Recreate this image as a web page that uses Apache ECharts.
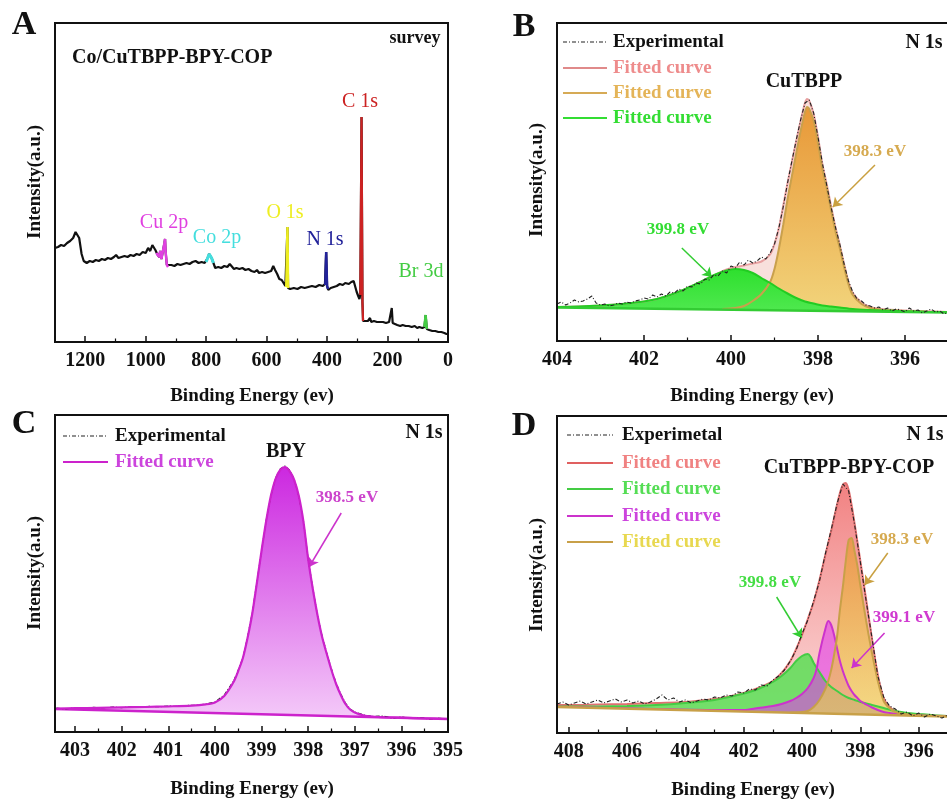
<!DOCTYPE html>
<html>
<head>
<meta charset="utf-8">
<script src="https://cdn.jsdelivr.net/npm/echarts@6/dist/echarts.min.js"></script>
<style>
  html, body { margin: 0; padding: 0; background: #fff; }
  #root { width: 947px; height: 805px; }
</style>
</head>
<body>
<div id="root"></div>
<script>
// ---- A: survey spectrum [binding energy, intensity] ----
const surveyA = [[1300, 94], [1290, 95], [1280, 97], [1270, 96], [1260, 99], [1250, 101], [1240, 104], [1232, 110], [1226, 111], [1220, 104], [1212, 88], [1205, 81], [1195, 79], [1185, 81], [1175, 80], [1165, 82], [1155, 81], [1145, 83], [1135, 82], [1125, 84], [1115, 83], [1105, 85], [1098, 87], [1090, 84], [1080, 85], [1070, 86], [1060, 85], [1050, 87], [1040, 86], [1030, 88], [1020, 87], [1010, 90], [1000, 89], [992, 94], [985, 91], [978, 97], [972, 99], [968, 92], [962, 88], [955, 85], [952, 91], [948, 83], [943, 85], [938, 99], [936, 103], [934, 90], [930, 77], [925, 75], [915, 77], [905, 76], [895, 78], [885, 77], [875, 78], [865, 79], [855, 78], [845, 80], [835, 81], [825, 79], [815, 80], [805, 79], [800, 80], [795, 84], [790, 88], [786, 89], [782, 84], [776, 79], [770, 74], [760, 75], [750, 74], [740, 76], [730, 75], [722, 78], [716, 76], [708, 73], [700, 74], [690, 73], [680, 74], [670, 72], [660, 73], [650, 71], [640, 70], [632, 72], [625, 69], [615, 70], [605, 69], [595, 70], [585, 71], [578, 76], [572, 72], [565, 68], [558, 63], [550, 62], [544, 60], [538, 56], [533, 55], [531, 115], [529, 54], [522, 53], [510, 54], [498, 53], [486, 55], [474, 54], [462, 55], [450, 56], [438, 55], [426, 57], [414, 56], [407, 58], [403, 90], [400, 56], [396, 52], [388, 54], [378, 55], [368, 56], [358, 58], [348, 57], [340, 59], [334, 61], [328, 58], [320, 60], [312, 61], [306, 59], [302, 50], [297, 46], [293, 43], [290, 47], [286, 225], [283, 40], [281, 21], [275, 20], [265, 21], [258, 24], [254, 20], [245, 21], [235, 20], [225, 20], [215, 20], [205, 19], [195, 20], [189, 22], [186, 34], [183, 19], [178, 17], [168, 17], [158, 16], [150, 17], [140, 16], [130, 16], [120, 15], [110, 16], [102, 14], [95, 15], [85, 14], [78, 15], [74, 27], [70, 13], [62, 12], [52, 11], [42, 11], [32, 10], [22, 10], [12, 9], [5, 8], [0, 8]]
const cu2p = [[965, 89], [962, 88], [955, 85], [952, 91], [948, 83], [943, 85], [938, 99], [936, 103], [934, 90], [930, 77], [926, 75]]
const co2p = [[800, 80], [795, 84], [790, 88], [786, 89], [782, 84], [776, 79]]
const o1s = [[535, 55], [533, 55], [531, 115], [529, 54], [527, 54]]
const n1s = [[406, 57], [403, 90], [400, 56], [397, 53]]
const c1s = [[290, 47], [286, 225], [283, 40], [281, 21]]
const br3d = [[78, 15], [74, 27], [70, 13]]

// ---- B: CuTBPP N 1s ----
const expB = [[404.0, 37], [403.9, 39], [403.8, 36], [403.7, 38], [403.6, 41], [403.5, 39], [403.4, 40], [403.3, 42], [403.2, 45], [403.1, 38], [403.0, 36], [402.9, 37], [402.8, 35], [402.7, 36], [402.6, 38], [402.5, 37], [402.4, 39], [402.3, 38], [402.2, 40], [402.1, 41], [402.0, 43], [401.9, 42], [401.8, 46], [401.7, 44], [401.6, 47], [401.5, 45], [401.4, 49], [401.3, 48], [401.2, 52], [401.1, 50], [401.0, 55], [400.9, 54], [400.8, 58], [400.7, 57], [400.6, 62], [400.5, 61], [400.4, 66], [400.3, 65], [400.2, 70], [400.1, 68], [400.0, 75], [399.9, 73], [399.8, 79], [399.7, 76], [399.6, 81], [399.5, 78], [399.4, 80], [399.3, 84], [399.2, 82], [399.1, 88], [399.0, 97], [398.9, 113], [398.8, 134], [398.7, 158], [398.6, 180], [398.5, 201], [398.4, 221], [398.3, 238], [398.2, 241], [398.1, 228], [398.0, 204], [397.9, 178], [397.8, 156], [397.7, 134], [397.6, 114], [397.5, 97], [397.4, 77], [397.3, 60], [397.2, 49], [397.1, 42], [397.0, 40], [396.9, 36], [396.8, 35], [396.7, 33], [396.6, 34], [396.5, 31], [396.4, 33], [396.3, 30], [396.2, 32], [396.1, 31], [396.0, 29], [395.9, 33], [395.8, 30], [395.7, 31], [395.6, 28], [395.5, 30], [395.4, 32], [395.3, 29], [395.2, 30], [395.1, 27], [395.0, 29]]
const envB = [[404, 34], [403.5, 34.5], [403, 35.5], [402.5, 37], [402, 39.5], [401.7, 42], [401.4, 46], [401.1, 51], [400.9, 55], [400.7, 59], [400.5, 63.5], [400.3, 67.6], [400.1, 71.5], [399.9, 74], [399.7, 75.5], [399.5, 77.5], [399.3, 79.5], [399.1, 86.5], [399.0, 97], [398.9, 113], [398.8, 135], [398.7, 158], [398.6, 179], [398.5, 200], [398.4, 220], [398.3, 238], [398.25, 242], [398.2, 240], [398.1, 227], [398.0, 204], [397.9, 177], [397.8, 157], [397.7, 135], [397.6, 114], [397.5, 96], [397.4, 77], [397.3, 59], [397.2, 48], [397.0, 38.5], [396.8, 34], [396.5, 31.7], [396, 30.4], [395.5, 29.7], [395, 29]]
const orangeB = [[400.2, 32], [399.9, 33], [399.7, 35], [399.5, 40], [399.3, 47], [399.1, 59], [399.0, 72], [398.9, 92], [398.8, 116], [398.7, 142], [398.6, 165], [398.5, 188], [398.4, 210], [398.3, 229], [398.25, 234], [398.2, 232], [398.1, 220], [398.0, 198], [397.9, 172], [397.8, 153], [397.7, 131], [397.6, 110], [397.5, 93], [397.4, 74], [397.3, 57], [397.2, 46], [397.0, 37], [396.8, 33], [396.5, 31], [396, 30], [395.5, 29.3], [395, 28.8]]
const greenB = [[404, 34], [403.5, 34.5], [403, 35.5], [402.5, 37], [402, 39.5], [401.7, 42], [401.4, 46], [401.1, 51], [400.9, 55], [400.7, 59], [400.5, 63.5], [400.3, 67.5], [400.1, 70.5], [399.9, 72], [399.7, 71], [399.5, 68], [399.3, 63], [399.1, 58], [398.9, 52.5], [398.7, 47.5], [398.5, 43], [398.3, 39.5], [398.1, 37.5], [397.9, 35.5], [397.7, 34.5], [397.5, 33.5], [397.2, 32], [396.8, 31], [396.5, 30.5], [396, 29.8], [395.5, 29.2], [395, 28.8]]
const baseB = [[404, 33.5], [395, 28.5]]

// ---- C: BPY N 1s ----
const expC = [[403.4, 24], [403.2, 23], [403.0, 24.5], [402.8, 23.8], [402.6, 24.6], [402.4, 24], [402.2, 25], [402.0, 24.4], [401.8, 25.3], [401.6, 24.8], [401.4, 25.6], [401.2, 25.2], [401.0, 26], [400.8, 25.6], [400.6, 26.6], [400.4, 26.8], [400.2, 28], [400.0, 30], [399.8, 37], [399.6, 51], [399.5, 62], [399.4, 74], [399.3, 95], [399.2, 119], [399.1, 150], [399.0, 181], [398.9, 212], [398.8, 236], [398.7, 254], [398.6, 263], [398.5, 266], [398.4, 262], [398.3, 253], [398.2, 236], [398.1, 211], [398.0, 173], [397.9, 144], [397.8, 117], [397.7, 96], [397.6, 79], [397.5, 63], [397.4, 49], [397.3, 38], [397.2, 29], [397.1, 23], [397.0, 20], [396.8, 17], [396.6, 15.5], [396.4, 16], [396.2, 14], [396.0, 15], [395.8, 13.5], [395.6, 14.5], [395.4, 13], [395.2, 13.8], [395.0, 12.5]]
const fitC = [[403.4, 23.5], [403, 23.8], [402.5, 24.2], [402, 24.6], [401.5, 25], [401, 25.6], [400.5, 26.4], [400.2, 27.6], [400, 29.5], [399.8, 36], [399.6, 50], [399.5, 61], [399.4, 74], [399.3, 94], [399.2, 118], [399.1, 149], [399.0, 181], [398.9, 211], [398.8, 236], [398.7, 253], [398.6, 262], [398.5, 265], [398.4, 261], [398.3, 252], [398.2, 236], [398.1, 210], [398.0, 173], [397.9, 143], [397.8, 117], [397.7, 95], [397.6, 78], [397.5, 62], [397.4, 48], [397.3, 37], [397.2, 28], [397.1, 22.5], [397.0, 19.5], [396.8, 16.5], [396.5, 15], [396, 14.3], [395.5, 13.6], [395, 13]]
const baseC = [[403.43, 23], [395, 13]]

// ---- D: CuTBPP-BPY-COP N 1s ----
const expD = [[408.4, 29], [408.2, 31], [408.0, 28], [407.8, 30], [407.6, 32], [407.4, 29], [407.2, 31], [407.0, 33], [406.8, 30], [406.6, 32], [406.4, 34], [406.2, 31], [406.0, 33], [405.8, 30], [405.6, 32], [405.4, 29], [405.2, 31], [405.0, 34], [404.8, 38], [404.6, 33], [404.4, 35], [404.2, 31], [404.0, 33], [403.8, 30], [403.6, 32], [403.4, 34], [403.2, 33], [403.0, 36], [402.8, 35], [402.6, 38], [402.4, 37], [402.2, 41], [402.0, 40], [401.8, 44], [401.6, 43], [401.4, 48], [401.2, 47], [401.0, 53], [400.8, 57], [400.6, 63], [400.4, 72], [400.2, 83], [400.0, 99], [399.8, 113], [399.6, 132], [399.4, 152], [399.2, 179], [399.0, 203], [398.8, 229], [398.6, 249], [398.4, 242], [398.2, 209], [398.0, 171], [397.8, 132], [397.6, 95], [397.4, 57], [397.2, 36], [397.0, 27], [396.8, 24], [396.6, 19], [396.4, 21], [396.2, 17], [396.0, 20], [395.8, 16], [395.6, 19], [395.4, 17], [395.2, 15], [395.0, 18]]
const envD = [[408.4, 28], [408, 28], [407, 28.5], [406, 29], [405, 30], [404, 31], [403, 34], [402.5, 36.5], [402, 40], [401.5, 45], [401, 52], [400.7, 60], [400.4, 72], [400.2, 84], [400.0, 98], [399.8, 114], [399.6, 131], [399.4, 153], [399.2, 178], [399.1, 190], [399.0, 202], [398.9, 215], [398.8, 228], [398.7, 240], [398.6, 248], [398.5, 250], [398.4, 243], [398.3, 228], [398.2, 210], [398.1, 191], [398.0, 172], [397.8, 133], [397.6, 94], [397.4, 58], [397.2, 35], [397.0, 26], [396.8, 22], [396.5, 20], [396, 18.5], [395.5, 17.5], [395, 17]]
const greenD = [[408.4, 26.5], [408, 26.5], [407, 26.6], [406, 27], [405, 28], [404, 30], [403, 33], [402.5, 36], [402, 39.5], [401.5, 44], [401, 51], [400.7, 57], [400.4, 65], [400.2, 72], [400.0, 77], [399.8, 79], [399.7, 76], [399.6, 70], [399.4, 61], [399.2, 52], [399.0, 46], [398.8, 42], [398.6, 38], [398.4, 35], [398.2, 33], [398.0, 31], [397.6, 28], [397.2, 25], [396.8, 22], [396.4, 20], [396, 19], [395.5, 17.8], [395, 17]]
const magentaD = [[408.4, 26.2], [407, 25.3], [405, 24], [403, 23], [402, 23], [401.5, 25], [401, 27], [400.7, 29], [400.4, 32], [400.2, 35], [400.0, 39], [399.8, 45], [399.6, 55], [399.5, 64], [399.4, 80], [399.2, 104], [399.1, 112], [399.0, 108], [398.9, 98], [398.8, 85], [398.7, 72], [398.6, 62], [398.5, 54], [398.4, 47], [398.3, 42], [398.2, 38], [398.1, 35], [398.0, 32], [397.8, 28.5], [397.6, 25.5], [397.4, 23], [397.2, 21], [397.0, 20], [396.5, 18], [396, 17.5], [395.5, 17], [395, 16.5]]
const orangeD = [[400.4, 20.5], [400, 21], [399.8, 22], [399.6, 26], [399.4, 33], [399.2, 44], [399.1, 52], [399.0, 63], [398.9, 78], [398.8, 96], [398.7, 123], [398.6, 146], [398.5, 172], [398.4, 193], [398.3, 195], [398.2, 182], [398.1, 167], [398.0, 148], [397.8, 112], [397.6, 80], [397.4, 52], [397.2, 32], [397.0, 25], [396.8, 21], [396.5, 19], [396, 17.5], [395.5, 17], [395, 16.5]]
const baseD = [[408.4, 26], [395, 16.5]]

const FONT = '"Liberation Serif", "Times New Roman", serif'
const main = document.getElementById('root')
const chart = echarts.init(main)

const grad = (top, bottom) => new echarts.graphic.LinearGradient(0, 0, 0, 1, [
  { offset: 0, color: top }, { offset: 1, color: bottom }
])

// 坐标轴
function energyAxis(idx, min, max, interval, showMax) {
  return {
    type: 'value', gridIndex: idx, min, max, interval, inverse: true, z: 10,
    axisLine: { show: true, onZero: false, lineStyle: { color: '#111', width: 2 } },
    axisTick: { show: true, inside: true, length: 6, lineStyle: { color: '#111', width: 1.5 } },
    minorTick: { show: true, splitNumber: 2, length: 3.5, lineStyle: { color: '#111', width: 1.2 } },
    splitLine: { show: false },
    minorSplitLine: { show: false },
    axisLabel: {
      fontFamily: FONT, fontWeight: 'bold', fontSize: 20, color: '#111', margin: 9,
      showMaxLabel: showMax, formatter: v => String(v)
    }
  }
}
const intensityAxis = (idx, max) => ({ type: 'value', gridIndex: idx, min: 0, max, show: false })

function line(idx, data, color, width, z, extra = {}) {
  return Object.assign({
    type: 'line', xAxisIndex: idx, yAxisIndex: idx, data, showSymbol: false, symbol: 'none',
    silent: true, z, lineStyle: { color, width }
  }, extra)
}
const fit = (idx, data, color, fill, z = 2) => line(idx, data, color, 2, z, { smooth: 0.3, areaStyle: { color: fill, opacity: 1 } })
const base = (idx, data, color) => line(idx, data, color, 2.5, 3, { areaStyle: { color: '#fff', opacity: 1 } })
const exp = (idx, data, arrows) => line(idx, data, '#222', 1, 5, {
  lineStyle: { color: '#222', width: 1.1, type: [4, 2, 1, 2] },
  markLine: {
    silent: true, symbol: ['none', 'arrow'], symbolSize: 9, label: { show: false },
    emphasis: { disabled: true },
    data: arrows.map(a => [
      { coord: a.from, lineStyle: { color: a.color, width: 1.5, type: 'solid' } },
      { coord: a.to, lineStyle: { color: a.color, width: 1.5, type: 'solid' } }
    ])
  }
})

// 文字
function txt(x, y, text, size, color, o = {}) {
  const align = o.align || 'center'
  return {
    type: 'text', x, y, rotation: o.rot || 0, z: 30, silent: true,
    style: {
      text, fill: color, font: `${o.weight || 'bold'} ${size}px ${FONT}`,
      align, verticalAlign: 'middle', textAlign: align, textVerticalAlign: 'middle'
    }
  }
}
function key(x1, x2, y, color, dash) {
  return {
    type: 'line', z: 30, silent: true, shape: { x1, y1: y, x2, y2: y },
    style: { stroke: color, lineWidth: dash ? 1.2 : 2, lineDash: dash || null }
  }
}
const DASH = [4, 2, 1, 2]

const graphic = [
  // panel A
  txt(24, 25, 'A', 34, '#111'),
  txt(415, 38, 'survey', 18, '#111'),
  txt(72, 58, 'Co/CuTBPP-BPY-COP', 20, '#111', { align: 'left' }),
  txt(164, 223, 'Cu 2p', 20, '#e040e0', { weight: 'normal' }),
  txt(217, 238, 'Co 2p', 20, '#44dede', { weight: 'normal' }),
  txt(285, 213, 'O 1s', 20, '#eeee22', { weight: 'normal' }),
  txt(325, 240, 'N 1s', 20, '#22229a', { weight: 'normal' }),
  txt(360, 102, 'C 1s', 20, '#cc2222', { weight: 'normal' }),
  txt(421, 272, 'Br 3d', 20, '#44cc44', { weight: 'normal' }),
  txt(35, 182, 'Intensity(a.u.)', 19, '#111', { rot: Math.PI / 2 }),
  txt(252, 396, 'Binding Energy (ev)', 19, '#111'),
  // panel B
  txt(524, 27, 'B', 34, '#111'),
  key(563, 607, 42, '#222', DASH), txt(613, 42, 'Experimental', 19, '#111', { align: 'left' }),
  key(563, 607, 68, '#e08a8a'), txt(613, 68, 'Fitted curve', 19, '#ee8c8c', { align: 'left' }),
  key(563, 607, 93, '#d6aa55'), txt(613, 93, 'Fitted curve', 19, '#e4b458', { align: 'left' }),
  key(563, 607, 118, '#33dd33'), txt(613, 118, 'Fitted curve', 19, '#33dd33', { align: 'left' }),
  txt(924, 43, 'N 1s', 20, '#111'),
  txt(804, 82, 'CuTBPP', 20, '#111'),
  txt(875, 152, '398.3 eV', 17, '#d6aa50'),
  txt(678, 230, '399.8 eV', 17, '#33dd33'),
  txt(537, 180, 'Intensity(a.u.)', 19, '#111', { rot: Math.PI / 2 }),
  txt(752, 396, 'Binding Energy (ev)', 19, '#111'),
  // panel C
  txt(24, 424, 'C', 34, '#111'),
  key(63, 108, 436, '#222', DASH), txt(115, 436, 'Experimental', 19, '#111', { align: 'left' }),
  key(63, 108, 462, '#cc22cc'), txt(115, 462, 'Fitted curve', 19, '#cc44dd', { align: 'left' }),
  txt(424, 433, 'N 1s', 20, '#111'),
  txt(286, 452, 'BPY', 20, '#111'),
  txt(347, 498, '398.5 eV', 17, '#cc44cc'),
  txt(35, 573, 'Intensity(a.u.)', 19, '#111', { rot: Math.PI / 2 }),
  txt(252, 789, 'Binding Energy (ev)', 19, '#111'),
  // panel D
  txt(524, 426, 'D', 34, '#111'),
  key(567, 613, 435, '#222', DASH), txt(622, 435, 'Experimetal', 19, '#111', { align: 'left' }),
  key(567, 613, 463, '#e06060'), txt(622, 463, 'Fitted curve', 19, '#f08282', { align: 'left' }),
  key(567, 613, 489, '#44cc44'), txt(622, 489, 'Fitted curve', 19, '#55dd55', { align: 'left' }),
  key(567, 613, 516, '#cc33cc'), txt(622, 516, 'Fitted curve', 19, '#cc44dd', { align: 'left' }),
  key(567, 613, 542, '#c8a048'), txt(622, 542, 'Fitted curve', 19, '#e8d850', { align: 'left' }),
  txt(925, 435, 'N 1s', 20, '#111'),
  txt(849, 468, 'CuTBPP-BPY-COP', 20, '#111'),
  txt(902, 540, '398.3 eV', 17, '#d6aa50'),
  txt(770, 583, '399.8 eV', 17, '#44dd44'),
  txt(904, 618, '399.1 eV', 17, '#d03ad0'),
  txt(537, 575, 'Intensity(a.u.)', 19, '#111', { rot: Math.PI / 2 }),
  txt(753, 790, 'Binding Energy (ev)', 19, '#111')
]

const gridBox = {
  show: true, borderColor: '#111', borderWidth: 2, z: 10, backgroundColor: 'transparent',
  containLabel: false, outerBoundsMode: 'none'
}

const option = {
  animation: false,
  backgroundColor: '#fff',
  grid: [
    { ...gridBox, left: 55, top: 23, width: 393, height: 319 },
    { ...gridBox, left: 557, top: 23, width: 435, height: 318 },
    { ...gridBox, left: 55, top: 415, width: 393, height: 317 },
    { ...gridBox, left: 557, top: 416, width: 420, height: 317 }
  ],
  xAxis: [
    energyAxis(0, 0, 1300, 200, false),
    energyAxis(1, 394, 404, 2, true),
    energyAxis(2, 395, 403.43, 1, false),
    energyAxis(3, 394, 408.4, 2, false)
  ],
  yAxis: [intensityAxis(0, 319), intensityAxis(1, 318), intensityAxis(2, 317), intensityAxis(3, 317)],
  graphic,
  series: [
    // A
    line(0, surveyA, '#111', 2.2, 2),
    line(0, cu2p, '#e040e0', 2.5, 3),
    line(0, co2p, '#44dede', 3, 3),
    line(0, o1s, '#eeee22', 2.5, 3),
    line(0, n1s, '#22229a', 2.5, 3),
    line(0, c1s, '#cc2222', 2.2, 3),
    line(0, br3d, '#44cc44', 2.5, 3),
    // B
    fit(1, envB, '#e8a0a0', '#f8e0dc'),
    fit(1, orangeB, '#c9a04c', grad('#e89838', '#f3dc84')),
    fit(1, greenB, '#22cc22', grad('#2ee02e', '#66ee66')),
    base(1, baseB, '#33cc33'),
    exp(1, expB, [
      { from: [396.69, 176], to: [397.66, 134], color: '#c9a040' },
      { from: [401.13, 93], to: [400.44, 64], color: '#33cc33' }
    ]),
    // C
    line(2, fitC, '#cc22cc', 0, 2, { smooth: 0.3, areaStyle: { color: grad('#cc28e0', '#f6d2fa'), opacity: 1 } }),
    base(2, baseC, '#cc22cc'),
    exp(2, expC, [{ from: [397.29, 219], to: [397.98, 165], color: '#cc33cc' }]),
    line(2, fitC, '#cc22cc', 2.2, 6, { smooth: 0.3 }),
    // D
    fit(3, envD, '#e07070', grad('rgba(240,115,115,0.9)', 'rgba(250,210,210,0.75)')),
    fit(3, greenD, '#44cc44', 'rgba(70,225,70,0.75)'),
    fit(3, magentaD, '#cc33cc', 'rgba(225,60,235,0.6)'),
    fit(3, orangeD, '#c8a048', grad('rgba(232,150,50,0.7)', 'rgba(240,225,80,0.6)')),
    base(3, baseD, '#c8a048'),
    exp(3, expD, [
      { from: [397.06, 180], to: [397.85, 148], color: '#c9a040' },
      { from: [400.87, 136], to: [400.01, 95], color: '#33cc33' },
      { from: [397.17, 100], to: [398.30, 65], color: '#cc33cc' }
    ])
  ]
}

chart.setOption(option)
</script>
</body>
</html>
